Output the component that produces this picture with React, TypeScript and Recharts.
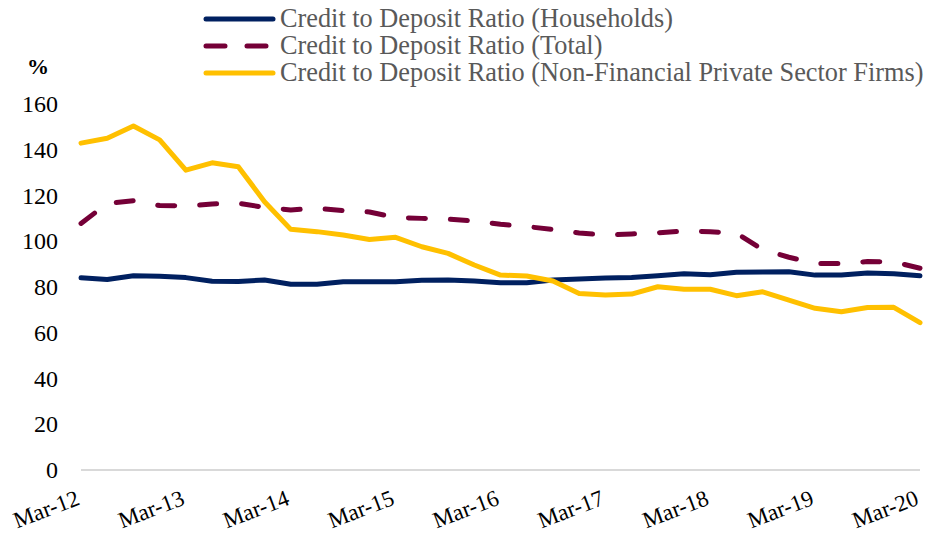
import React from "react";
import { LineChart, Line, XAxis, YAxis } from "recharts";

const quarters = [
  "Mar-12", "Jun-12", "Sep-12", "Dec-12",
  "Mar-13", "Jun-13", "Sep-13", "Dec-13",
  "Mar-14", "Jun-14", "Sep-14", "Dec-14",
  "Mar-15", "Jun-15", "Sep-15", "Dec-15",
  "Mar-16", "Jun-16", "Sep-16", "Dec-16",
  "Mar-17", "Jun-17", "Sep-17", "Dec-17",
  "Mar-18", "Jun-18", "Sep-18", "Dec-18",
  "Mar-19", "Jun-19", "Sep-19", "Dec-19",
  "Mar-20",
];

const households = [
  84.0, 83.3, 84.9, 84.7, 84.1, 82.5, 82.4, 83.1, 81.2, 81.2, 82.3, 82.3,
  82.3, 82.9, 83.1, 82.6, 81.9, 81.9, 83.1, 83.5, 83.9, 84.2, 84.9, 85.8,
  85.4, 86.4, 86.6, 86.7, 85.2, 85.2, 86.1, 85.8, 84.9,
];

const total = [
  107.8, 116.5, 117.7, 115.6, 115.4, 116.3, 116.6, 114.8, 113.7, 114.4, 113.4,
  112.8, 110.4, 110.0, 109.7, 108.8, 107.4, 106.4, 105.2, 103.6, 102.7, 103.2,
  103.7, 104.5, 104.2, 103.5, 96.3, 93.0, 90.3, 90.3, 91.1, 91.0, 88.2,
];

const nonFinancial = [
  142.9, 145.0, 150.4, 144.3, 131.1, 134.3, 132.6, 117.3, 105.2, 104.2, 102.7,
  100.8, 101.7, 97.6, 94.7, 89.6, 85.2, 84.8, 82.6, 77.2, 76.5, 76.9, 80.1,
  79.0, 79.0, 76.2, 77.9, 74.3, 70.7, 69.2, 71.0, 71.1, 64.4,
];

const xTicks = ["Mar-12", "Mar-13", "Mar-14", "Mar-15", "Mar-16", "Mar-17", "Mar-18", "Mar-19", "Mar-20"];
const yTicks = [0, 20, 40, 60, 80, 100, 120, 140, 160];

const series = [
  { key: "households", name: "Credit to Deposit Ratio (Households)", color: "#002060", dash: undefined },
  { key: "total", name: "Credit to Deposit Ratio (Total)", color: "#750037", dash: "17 25" },
  { key: "nonFinancial", name: "Credit to Deposit Ratio (Non-Financial Private Sector Firms)", color: "#FFC000", dash: undefined },
];

const data = quarters.map((q, i) => ({
  quarter: q,
  households: households[i],
  total: total[i],
  nonFinancial: nonFinancial[i],
}));

const serif = "'Liberation Serif', 'Times New Roman', serif";

function XTick(props: any) {
  const { x, y, payload } = props;
  return (
    <g transform={`translate(${x},${y + 34}) rotate(-21)`}>
      <text x={0} y={0} textAnchor="end" fontFamily={serif} fontSize={23} fill="#000">
        {payload.value}
      </text>
    </g>
  );
}

function YTick(props: any) {
  const { x, y, payload } = props;
  return (
    <text x={x} y={y + 8} textAnchor="end" fontFamily={serif} fontSize={24} fill="#000">
      {payload.value}
    </text>
  );
}

function LegendBox() {
  return (
    <div style={{ position: "absolute", left: 203, top: 5 }}>
      {series.map((s) => (
        <div key={s.key} style={{ display: "flex", alignItems: "center", height: 27 }}>
          <svg width={74} height={10} style={{ display: "block" }}>
            <line
              x1={3}
              y1={5}
              x2={70}
              y2={5}
              stroke={s.color}
              strokeWidth={5}
              strokeLinecap="round"
              strokeDasharray={s.dash ? "19 22" : undefined}
            />
          </svg>
          <span
            style={{
              marginLeft: 3,
              fontFamily: serif,
              fontSize: 26.3,
              color: "#595959",
              whiteSpace: "nowrap",
              lineHeight: "27px",
            }}
          >
            {s.name}
          </span>
        </div>
      ))}
    </div>
  );
}

export default function App() {
  return (
    <div style={{ position: "absolute", left: 0, top: 0, width: 925, height: 533, background: "#fff" }}>
      <LegendBox />
      <div
        style={{
          position: "absolute",
          left: 27,
          top: 54,
          fontFamily: serif,
          fontWeight: "bold",
          fontSize: 22,
          color: "#000",
        }}
      >
        %
      </div>
      <LineChart width={925} height={533} data={data} margin={{ top: 104, right: 5, bottom: 0, left: 0 }}>
        <XAxis
          dataKey="quarter"
          ticks={xTicks}
          interval={0}
          height={63}
          tickLine={false}
          tickSize={0}
          tickMargin={0}
          axisLine={{ stroke: "#D9D9D9", strokeWidth: 2 }}
          tick={<XTick />}
        />
        <YAxis
          width={81}
          domain={[0, 160]}
          ticks={yTicks}
          axisLine={false}
          tickLine={false}
          tickSize={0}
          tickMargin={23}
          tick={<YTick />}
        />
        {series.map((s) => (
          <Line
            key={s.key}
            type="linear"
            dataKey={s.key}
            name={s.name}
            stroke={s.color}
            strokeWidth={5}
            strokeDasharray={s.dash}
            strokeLinecap="round"
            strokeLinejoin="round"
            dot={false}
            activeDot={false}
            isAnimationActive={false}
          />
        ))}
      </LineChart>
    </div>
  );
}
